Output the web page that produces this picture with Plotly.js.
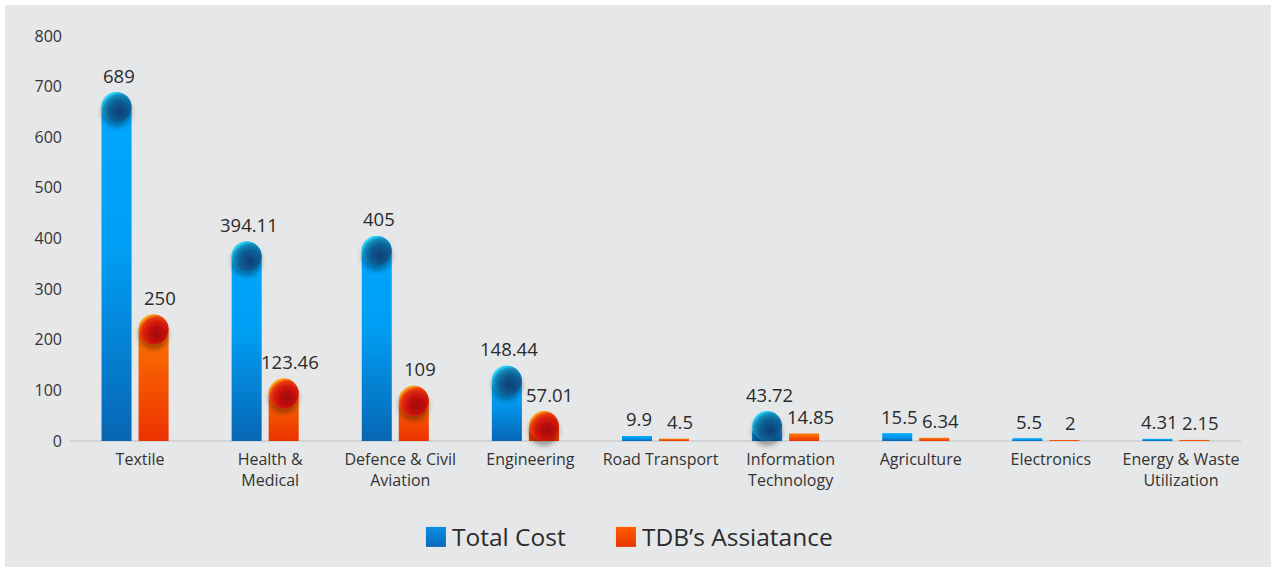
<!DOCTYPE html>
<html>
<head>
<meta charset="utf-8">
<script src="https://cdn.plot.ly/plotly-3.0.1.min.js"></script>
<style>
  html, body { margin: 0; padding: 0; background: #ffffff; }
  #chart { position: absolute; left: 5px; top: 5px; width: 1266px; height: 562px; }
</style>
</head>
<body>
<div id="chart"></div>
<script>
// ---- data ----
const categories = ["Textile", "Health &<br>Medical", "Defence & Civil<br>Aviation", "Engineering",
  "Road Transport", "Information<br>Technology", "Agriculture", "Electronics", "Energy & Waste<br>Utilization"];
const totalCost = [689, 394.11, 405, 148.44, 9.9, 43.72, 15.5, 5.5, 4.31];
const tdbAssistance = [250, 123.46, 109, 57.01, 4.5, 14.85, 6.34, 2, 2.15];
const totalLabels = ["689", "394.11", "405", "148.44", "9.9", "43.72", "15.5", "5.5", "4.31"];
const tdbLabels = ["250", "123.46", "109", "57.01", "4.5", "14.85", "6.34", "2", "2.15"];
const seriesNames = ["Total Cost", "TDB\u2019s Assiatance"];

// ---- styling constants ----
const FONT = "Open Sans, Noto Sans, sans-serif";
const BG = "#e6e7e9";
const Y_MAX = 800;
const PLOT_H = 405;             // px height of plotting area
const PX_PER_UNIT = PLOT_H / Y_MAX;
const R_PX = 15;                // sphere radius in px
const R_U = R_PX / PX_PER_UNIT; // sphere radius in data units
const SPHERE_MIN = 20;          // bars above this get a sphere cap
const BAR_W = 0.2308;
const OFFSETS = [-0.2577, 0.0269];
const SPHERE_DX = [-0.1423, 0.1423];
const LABEL_XSHIFT = [2, 6];

const idx = categories.map((_, i) => i);
const series = [
  {vals: totalCost, labels: totalLabels, key: "blue"},
  {vals: tdbAssistance, labels: tdbLabels, key: "orange"}
];

const traces = [];
const annotations = [];
series.forEach((s, k) => {
  traces.push({
    type: "bar", x: idx, y: s.vals.map(v => v >= SPHERE_MIN ? v : null),
    width: BAR_W, offset: OFFSETS[k], name: seriesNames[k], meta: s.key,
    marker: {color: k === 0 ? "#0a8ee0" : "#f55a00", cornerradius: R_PX, line: {width: 0}},
    showlegend: true, hoverinfo: "skip", cliponaxis: false
  });
  traces.push({
    type: "bar", x: idx, y: s.vals.map(v => v < SPHERE_MIN ? v : null),
    width: BAR_W, offset: OFFSETS[k], name: seriesNames[k], meta: s.key,
    marker: {color: k === 0 ? "#0a8ee0" : "#f55a00", line: {width: 0}},
    showlegend: false, hoverinfo: "skip", cliponaxis: false
  });
});
series.forEach((s, k) => {
  const sx = [], sy = [];
  s.vals.forEach((v, i) => {
    if (v >= SPHERE_MIN) { sx.push(i + SPHERE_DX[k]); sy.push(Math.max(v - R_U, R_U)); }
  });
  traces.push({
    type: "scatter", mode: "markers", x: sx, y: sy, meta: "sphere-" + s.key,
    marker: {size: 2 * R_PX, color: k === 0 ? "#0c6c9e" : "#d01a10", line: {width: 0}},
    showlegend: false, hoverinfo: "skip", cliponaxis: false
  });
  s.vals.forEach((v, i) => {
    const top = v >= SPHERE_MIN ? Math.max(v, 2 * R_U) : v;
    annotations.push({
      x: i + SPHERE_DX[k], y: top, xref: "x", yref: "y", text: s.labels[i],
      showarrow: false, yanchor: "middle", xanchor: "center", yshift: 17, xshift: LABEL_XSHIFT[k],
      font: {family: FONT, size: 18.5, color: "#2b2b2b"}
    });
  });
});

const layout = {
  width: 1266, height: 562,
  paper_bgcolor: BG, plot_bgcolor: BG,
  margin: {l: 65, r: 30, t: 31, b: 126, pad: 0, autoexpand: false},
  barmode: "overlay",
  showlegend: true,
  legend: {
    orientation: "h", x: 0.292, xanchor: "left", y: -0.237, yanchor: "middle",
    font: {family: FONT, size: 24.5, color: "#2b2b2b"},
    entrywidth: 145, entrywidthmode: "pixels", bgcolor: "rgba(0,0,0,0)"
  },
  xaxis: {
    range: [-0.5, 8.5], tickmode: "array", tickvals: idx, ticktext: categories,
    showgrid: false, zeroline: false, showline: false, ticks: "",
    tickfont: {family: FONT, size: 16, color: "#333"}, ticklabelstandoff: 7, ticklabelshift: 5, fixedrange: true
  },
  yaxis: {
    range: [0, Y_MAX], dtick: 100, showgrid: false, zeroline: true,
    zerolinecolor: "#d2d3d5", zerolinewidth: 2, showline: false, ticks: "",
    tickfont: {family: FONT, size: 16, color: "#333"}, ticklabelstandoff: 7, fixedrange: true
  },
  annotations: annotations
};

Plotly.newPlot("chart", traces, layout, {displayModeBar: false, staticPlot: true}).then(gd => {
  const svg = gd.querySelector("svg.main-svg");
  const NS = "http://www.w3.org/2000/svg";
  const defs = document.createElementNS(NS, "defs");
  defs.innerHTML = `
    <linearGradient id="gBlue" x1="0" y1="0" x2="0" y2="1">
      <stop offset="0" stop-color="#00a8ff"/><stop offset="0.45" stop-color="#009ef4"/><stop offset="1" stop-color="#0766b4"/>
    </linearGradient>
    <linearGradient id="gOrange" x1="0" y1="0" x2="0" y2="1">
      <stop offset="0" stop-color="#ff7c00"/><stop offset="1" stop-color="#ec3200"/>
    </linearGradient>
    <linearGradient id="lBlue" x1="0" y1="0" x2="0" y2="1">
      <stop offset="0" stop-color="#0a90e2"/><stop offset="1" stop-color="#0468bc"/>
    </linearGradient>
    <linearGradient id="lOrange" x1="0" y1="0" x2="0" y2="1">
      <stop offset="0" stop-color="#ff5e00"/><stop offset="1" stop-color="#e83400"/>
    </linearGradient>
    <radialGradient id="sBlue" cx="0.64" cy="0.68" r="0.74" fx="0.6" fy="0.64">
      <stop offset="0" stop-color="#083e76"/><stop offset="0.5" stop-color="#0b6096"/>
      <stop offset="0.78" stop-color="#148cbc"/><stop offset="0.9" stop-color="#22c6ec"/><stop offset="1" stop-color="#40ecfc"/>
    </radialGradient>
    <radialGradient id="sOrange" cx="0.64" cy="0.68" r="0.74" fx="0.6" fy="0.64">
      <stop offset="0" stop-color="#a00808"/><stop offset="0.5" stop-color="#d01408"/>
      <stop offset="0.78" stop-color="#e83c0c"/><stop offset="0.9" stop-color="#fa9016"/><stop offset="1" stop-color="#ffd42a"/>
    </radialGradient>
    <filter id="shadow" x="-60%" y="-60%" width="220%" height="240%">
      <feDropShadow dx="0" dy="5" stdDeviation="2.5" flood-color="#000" flood-opacity="0.33"/>
    </filter>`;
  svg.appendChild(defs);

  gd.querySelectorAll(".barlayer .trace").forEach(g => {
    const cd = g.__data__;
    const key = cd && cd[0] && cd[0].trace ? cd[0].trace.meta : null;
    g.querySelectorAll("path").forEach(p => {
      p.style.fill = key === "orange" ? "url(#gOrange)" : "url(#gBlue)";
    });
  });
  gd.querySelectorAll(".scatterlayer .trace").forEach(g => {
    const cd = g.__data__;
    const key = cd && cd[0] && cd[0].trace ? cd[0].trace.meta : null;
    g.querySelectorAll("path.point").forEach(p => {
      p.style.fill = key === "sphere-orange" ? "url(#sOrange)" : "url(#sBlue)";
      p.setAttribute("filter", "url(#shadow)");
    });
  });
  gd.querySelectorAll(".legend, .legend .scrollbox, .legend [clip-path]").forEach(el => el.removeAttribute("clip-path"));
  const legendItems = gd.querySelectorAll(".legend .traces");
  legendItems.forEach((g, i) => {
    g.querySelectorAll(".legendpoints path").forEach(p => {
      p.setAttribute("d", "M14,10H-6V-10H14Z");
      p.style.fill = i === 0 ? "url(#lBlue)" : "url(#lOrange)";
      p.style.stroke = "none";
    });
  });
});
</script>
</body>
</html>
